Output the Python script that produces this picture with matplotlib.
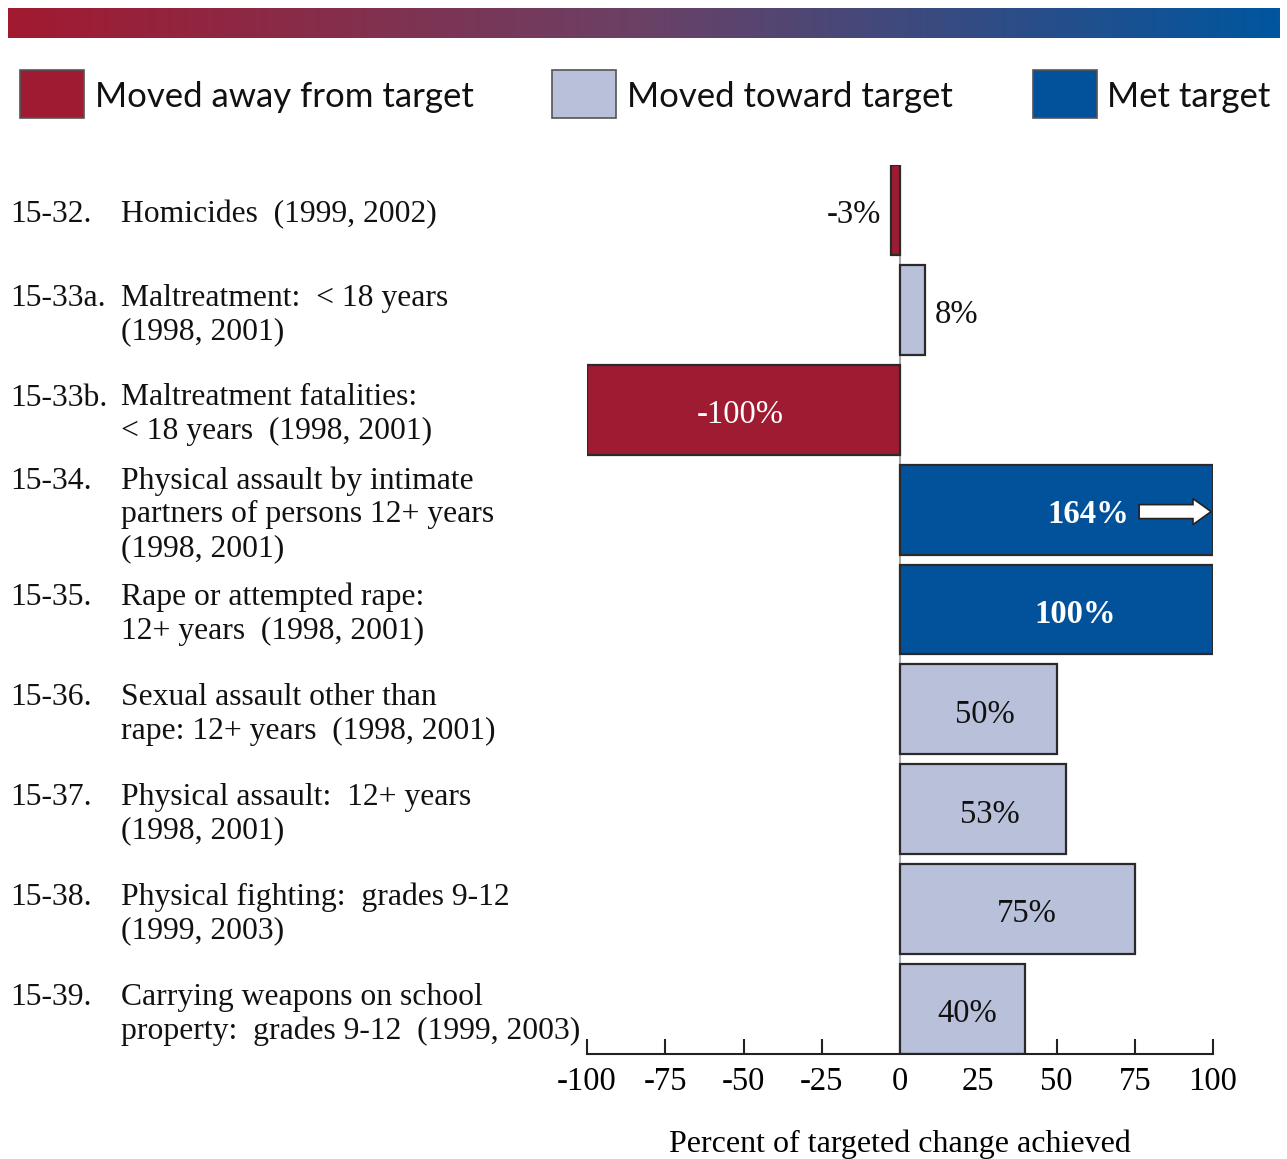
import matplotlib
matplotlib.use("Agg")
import matplotlib.pyplot as plt
import numpy as np
from matplotlib.colors import LinearSegmentedColormap
from matplotlib.patches import Rectangle, FancyArrow
from matplotlib.transforms import blended_transform_factory

# ---------------- data ----------------
codes = ["15-32.", "15-33a.", "15-33b.", "15-34.", "15-35.", "15-36.", "15-37.", "15-38.", "15-39."]
descriptions = [
    "Homicides  (1999, 2002)",
    "Maltreatment:  < 18 years\n(1998, 2001)",
    "Maltreatment fatalities:\n< 18 years  (1998, 2001)",
    "Physical assault by intimate\npartners of persons 12+ years\n(1998, 2001)",
    "Rape or attempted rape:\n12+ years  (1998, 2001)",
    "Sexual assault other than\nrape: 12+ years  (1998, 2001)",
    "Physical assault:  12+ years\n(1998, 2001)",
    "Physical fighting:  grades 9-12\n(1999, 2003)",
    "Carrying weapons on school\nproperty:  grades 9-12  (1999, 2003)",
]
values = [-3, 8, -100, 164, 100, 50, 53, 75, 40]
status = ["away", "toward", "away", "met", "met", "toward", "toward", "toward", "toward"]
value_labels = ["-3%", "8%", "-100%", "164%", "100%", "50%", "53%", "75%", "40%"]
xticks = [-100, -75, -50, -25, 0, 25, 50, 75, 100]
legend_labels = ["Moved away from target", "Moved toward target", "Met target"]
x_label = "Percent of targeted change achieved"

RED = "#9F1B32"
LIGHT = "#B8C0DA"
BLUE = "#01529B"
colors = {"away": RED, "toward": LIGHT, "met": BLUE}

W, H = 1287, 1159
fig = plt.figure(figsize=(W / 100, H / 100), dpi=100)
SERIF = ["Liberation Serif", "DejaVu Serif"]
SANS = ["Lato", "DejaVu Sans"]
FS = 23.5

# ---------------- gradient bar ----------------
gax = fig.add_axes([8 / W, 1 - 38 / H, 1272 / W, 30 / H])
cmap = LinearSegmentedColormap.from_list("g", ["#A21A30", "#6A4166", "#00569F"])
gax.imshow(np.linspace(0, 1, 512)[None, :], aspect="auto", cmap=cmap)
gax.set_axis_off()

# ---------------- legend ----------------
leg_x = [20, 552, 1033]
leg_text_x = [95, 627, 1107]
for lx, tx, lab, key in zip(leg_x, leg_text_x, legend_labels, ["away", "toward", "met"]):
    fig.patches.append(Rectangle((lx / W, 1 - 118 / H), 64 / W, 48 / H, transform=fig.transFigure,
                                 facecolor=colors[key], edgecolor="#555555", lw=1.2))
    fig.text(tx / W, 1 - 97 / H, lab, fontsize=25, family=SANS, va="center", ha="left", color="#111111")

# ---------------- main axes ----------------
ax = fig.add_axes([587 / W, (H - 1054) / H, 626 / W, 889 / H])
n = len(values)
y = np.arange(n)
plot_vals = [min(v, 100) for v in values]
ax.axvline(0, color="#aaaaaa", lw=1.5, zorder=0)
ax.barh(y, plot_vals, height=0.9, color=[colors[s] for s in status], edgecolor="#2a2a2a",
        linewidth=1.6, zorder=2)
ax.set_xlim(-100, 100)
ax.set_ylim(n - 0.55, -0.45)
for s in ["top", "right", "left"]:
    ax.spines[s].set_visible(False)
ax.spines["bottom"].set_linewidth(1.5)
ax.spines["bottom"].set_color("#222222")
ax.set_yticks([])
ax.set_xticks(xticks)
ax.set_xticklabels([str(t) for t in xticks], family=SERIF, fontsize=FS)
ax.tick_params(axis="x", direction="in", length=11, width=1.5, color="#222222", pad=9)
ax.set_xlabel(x_label, family=SERIF, fontsize=23, va="center")
ax.xaxis.set_label_coords(0.5, -90 / 889)
ax.patch.set_alpha(0)

DY = 0.05  # small downward nudge for text centring
# value labels
for i, (v, pv, lab, st) in enumerate(zip(values, plot_vals, value_labels, status)):
    if abs(pv) < 10:
        if pv < 0:
            ax.text(pv - 3, i + DY, lab, ha="right", va="center", family=SERIF, fontsize=FS, color="#111111")
        else:
            ax.text(pv + 3, i + DY, lab, ha="left", va="center", family=SERIF, fontsize=FS, color="#111111")
    elif v > 100:
        ax.text(60, i + DY, lab, ha="center", va="center", family=SERIF, fontsize=FS, color="white",
                fontweight="bold")
        ax.add_patch(FancyArrow(76.4, i + 0.02, 23.0, 0, width=0.14, head_width=0.26, head_length=5.8,
                                length_includes_head=True, fc="white", ec="#222222", lw=1.2, zorder=4))
    else:
        c = "white" if st == "met" or pv <= -100 else "#111111"
        fw = "bold" if st == "met" else "normal"
        if st == "met":
            xp = pv * 0.56
        elif pv > 0:
            xp = pv * 0.54
        else:
            xp = pv * 0.51
        ax.text(xp, i + DY, lab, ha="center", va="center", family=SERIF, fontsize=FS, color=c,
                fontweight=fw)

# category labels
tr = blended_transform_factory(fig.transFigure, ax.transData)
for i, (c, d) in enumerate(zip(codes, descriptions)):
    nlines = d.count("\n") + 1
    ctext = c + "\n " * (nlines - 1)
    for xx, txt in ((10, ctext), (121, d)):
        ax.text(xx / W, i + DY, txt, transform=tr, ha="left", va="center", family=SERIF, fontsize=22.8,
                linespacing=1.2, color="#111111", clip_on=False)

fig.savefig("out.png", dpi=100)
